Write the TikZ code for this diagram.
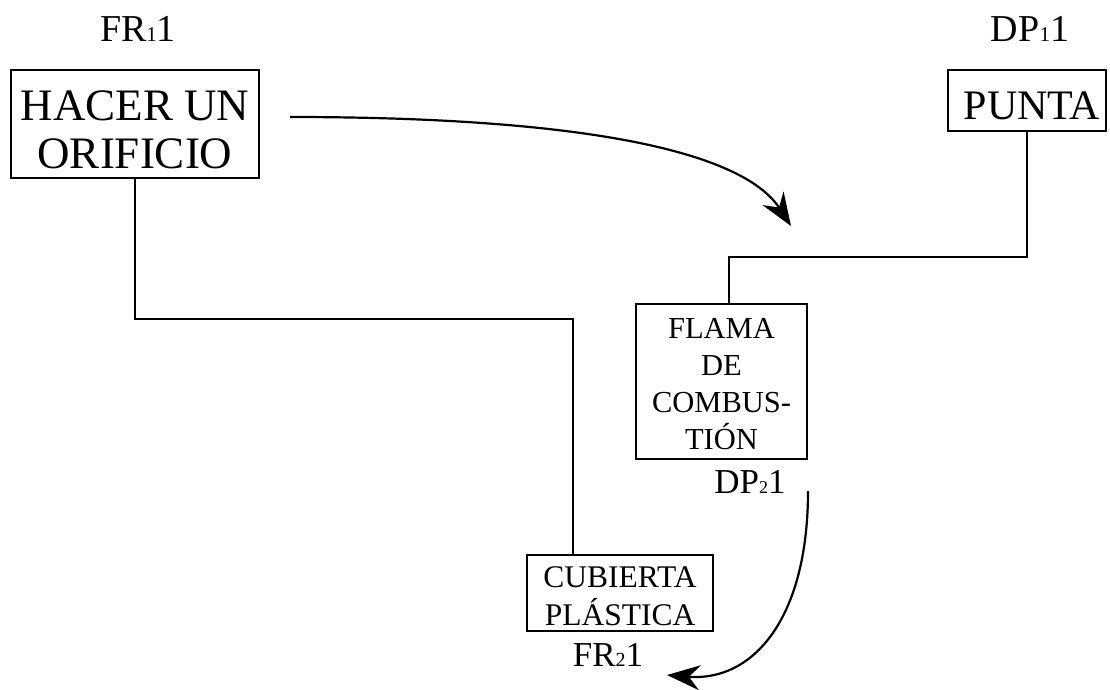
\documentclass[tikz,border=0pt]{standalone}
\usepackage{fontspec}
\setmainfont{Liberation Serif}
\usetikzlibrary{arrows.meta}

% small index digit set on the baseline, e.g. FR_1 1
\newcommand{\idxdigit}[2]{{\fontsize{#2}{#2}\selectfont #1}}

\begin{document}
\begin{tikzpicture}[x=1pt,y=-1pt,
  line width=1.8pt,
  boxframe/.style={draw, rectangle, inner sep=0pt},
  boxtext/.style={anchor=north, align=center, inner sep=0pt},
  tag/.style={anchor=base, inner sep=0pt},
  link/.style={line join=miter},
  flow/.style={line width=2.2pt, -{Stealth[length=33pt,width=25pt,inset=11pt]}}]

\useasboundingbox (0,0) rectangle (1110,690);

% top-level requirement and parameter
\node[tag, font=\fontsize{38}{38}\selectfont] (lfr1) at (138,42) {FR\idxdigit{1}{21}1};
\node[tag, font=\fontsize{38}{38}\selectfont] (ldp1) at (1030,42) {DP\idxdigit{1}{21}1};

\node[boxframe, minimum width=248pt, minimum height=108pt] (fr1) at (135,124) {};
\node[boxtext, font=\fontsize{45}{48}\selectfont] (fr1t) at (135,90) {HACER UN\\ORIFICIO};

\node[boxframe, minimum width=158pt, minimum height=61pt] (dp1) at (1027,100.5) {};
\node[boxtext, font=\fontsize{42}{46}\selectfont] (dp1t) at (1032,91) {PUNTA};

% second-level parameter
\node[boxframe, minimum width=171pt, minimum height=155pt] (dp2) at (721.5,381.5) {};
\node[boxtext, font=\fontsize{30.5}{37}\selectfont] (dp2t) at (721.5,317) {FLAMA\\DE\\COMBUS-\\TIÓN};
\node[tag, font=\fontsize{35}{35}\selectfont] (ldp2) at (750,493) {DP\idxdigit{2}{18}1};

% second-level requirement
\node[boxframe, minimum width=186pt, minimum height=76pt] (fr2) at (620,593) {};
\node[boxtext, font=\fontsize{31.5}{38}\selectfont] (fr2t) at (620,566) {CUBIERTA\\PLÁSTICA};
\node[tag, font=\fontsize{35}{35}\selectfont] (lfr2) at (608,666) {FR\idxdigit{2}{20}1};

% decomposition links
\coordinate (k1) at (573,319);
\coordinate (k2) at (729,257);
\draw[link] (fr1.south) |- (k1) -- (k1 |- fr2.north);
\draw[link] (dp1.south) |- (k2) -- (k2 |- dp2.north);

% zigzag mapping arrows
\coordinate (a1s) at (290,117);
\coordinate (a1e) at (791,226);
\coordinate (a2s) at (808,491);
\coordinate (a2e) at (667,675);
\draw[flow] (a1s) .. controls (600,117) and (745,155) .. (a1e);
\draw[flow] (a2s) .. controls (808,620) and (752,682) .. (a2e);

\end{tikzpicture}
\end{document}
